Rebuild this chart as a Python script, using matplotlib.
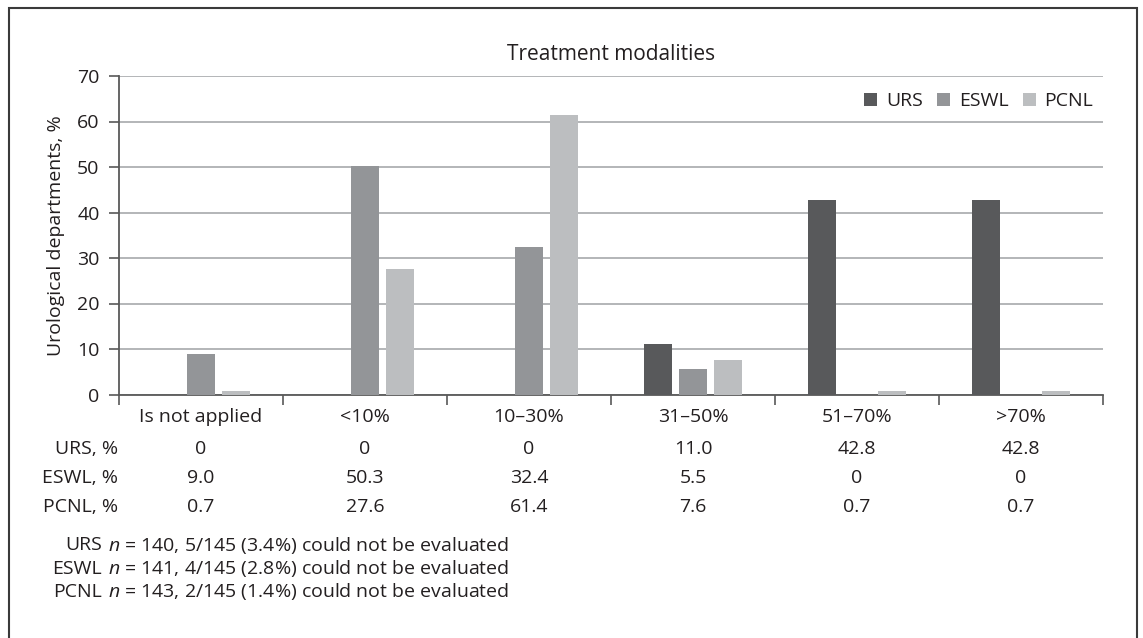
import numpy as np
import matplotlib.pyplot as plt
import matplotlib.transforms as mtransforms
from matplotlib.patches import Rectangle

plt.rcParams['font.family'] = ['Open Sans', 'DejaVu Sans']
plt.rcParams['mathtext.fontset'] = 'custom'
plt.rcParams['mathtext.it'] = 'Open Sans:italic'
plt.rcParams['mathtext.rm'] = 'Open Sans'

categories = ['Is not applied', '<10%', '10–30%', '31–50%', '51–70%', '>70%']
urs = [0, 0, 0, 11.0, 42.8, 42.8]
eswl = [9.0, 50.3, 32.4, 5.5, 0, 0]
pcnl = [0.7, 27.6, 61.4, 7.6, 0.7, 0.7]
urs_lbl = ['0', '0', '0', '11.0', '42.8', '42.8']
eswl_lbl = ['9.0', '50.3', '32.4', '5.5', '0', '0']
pcnl_lbl = ['0.7', '27.6', '61.4', '7.6', '0.7', '0.7']
notes = [('URS', '$n$ = 140, 5/145 (3.4%) could not be evaluated'),
         ('ESWL', '$n$ = 141, 4/145 (2.8%) could not be evaluated'),
         ('PCNL', '$n$ = 143, 2/145 (1.4%) could not be evaluated')]

txt = '#231f20'
fs = 14
W, H = 1143, 638
fig = plt.figure(figsize=(W / 100, H / 100), dpi=100)
ax = fig.add_axes([119 / W, 1 - 394.5 / H, 984 / W, 318.5 / H])

x = np.arange(len(categories))
bw = 0.17
off = 0.213
ax.bar(x - off, urs, bw, color='#58595b', label='URS', zorder=3)
ax.bar(x, eswl, bw, color='#939598', label='ESWL', zorder=3)
ax.bar(x + off, pcnl, bw, color='#bcbec0', label='PCNL', zorder=3)

ax.set_xlim(-0.5, len(categories) - 0.5)
ax.set_ylim(0, 70)
ax.set_yticks(range(0, 71, 10))
ax.yaxis.grid(True, color='#a7a9ac', lw=1.2, zorder=0)
ax.set_xticks(np.arange(-0.5, len(categories), 1))
ax.set_xticklabels([])
ax.tick_params(axis='x', length=7, width=1.2, color='#595959', direction='out')
ax.tick_params(axis='y', length=7, width=1.2, color='#595959', direction='out',
               pad=7, labelsize=fs, labelcolor=txt)
for s in ['top', 'right']:
    ax.spines[s].set_visible(False)
for s in ['left', 'bottom']:
    ax.spines[s].set_color('#595959')
    ax.spines[s].set_linewidth(1.3)
ax.set_ylabel('Urological departments, %', fontsize=fs, color=txt)
ax.yaxis.set_label_coords((65 - 119) / 984, 0.5)

leg = ax.legend(loc='center right', bbox_to_anchor=(1.0, 0.921), ncol=3, frameon=False,
                fontsize=fs, handlelength=0.67, handleheight=0.67, handletextpad=0.46,
                columnspacing=0.72, borderpad=0, borderaxespad=0.5)
for t in leg.get_texts():
    t.set_color(txt)

tr = mtransforms.blended_transform_factory(ax.transData, fig.transFigure)
def fy(py):
    return 1 - py / H

fig.text(611 / W, fy(55), 'Treatment modalities', ha='center', va='center',
         fontsize=15, color=txt)

for i, c in enumerate(categories):
    ax.text(i, fy(417), c, transform=tr, ha='center', va='center', fontsize=fs, color=txt)
rows = [('URS, %', urs_lbl, 449), ('ESWL, %', eswl_lbl, 478), ('PCNL, %', pcnl_lbl, 507)]
for name, vals, py in rows:
    fig.text(118 / W, fy(py), name, ha='right', va='center', fontsize=fs, color=txt)
    for i, v in enumerate(vals):
        ax.text(i, fy(py), v, transform=tr, ha='center', va='center', fontsize=fs, color=txt)

for k, (name, line) in enumerate(notes):
    py = 545 + k * 23.5
    fig.text(102 / W, fy(py), name, ha='right', va='center', fontsize=fs, color=txt)
    fig.text(108 / W, fy(py), line, ha='left', va='center', fontsize=fs, color=txt)

fig.patches.append(Rectangle((9 / W, -0.01), 1128 / W, 1 - 8 / H + 0.01,
                             transform=fig.transFigure, fill=False,
                             edgecolor='#3a3a3a', lw=1.5))

fig.savefig('out.png', dpi=100)
